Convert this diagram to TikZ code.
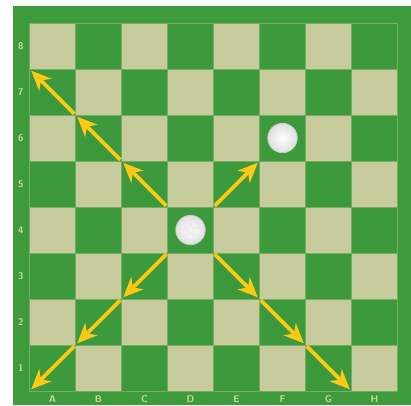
\documentclass[tikz,border=0pt]{standalone}
\usepackage{xcolor}
\usepackage{tikz}
\usetikzlibrary{arrows.meta,shapes.geometric}
\definecolor{bddark}{HTML}{3C9A3C}
\definecolor{bdlight}{HTML}{C8CC9C}
\definecolor{bdframe}{HTML}{3D9B3B}
\definecolor{mvgold}{HTML}{FFC814}

\begin{document}
\begin{tikzpicture}[
  sq/.style={draw=bdlight!40!bddark, line width=0.5pt},
  lbl/.style={text=bdlight!85!white, font=\sffamily\bfseries\fontsize{6}{7}\selectfont, inner sep=0pt},
  mv/.style={-{Stealth[length=4.3mm,width=3.7mm,inset=1.3mm]}, line width=2.3pt, color=mvgold, shorten >=1.5pt, shorten <=1pt},
  disc/.style={circle, minimum size=0.64cm, inner sep=0pt, draw=gray!40, line width=0.5pt, inner color=white, outer color=gray!25}
]
  \useasboundingbox (-0.641,-0.304) rectangle (8.293,8.5);
  \fill[bdframe] (-0.359,-0.304) rectangle (8.293,8.37);

  % squares, A1 dark
  \foreach \i in {0,...,7}
    \foreach \j in {0,...,7} {
      \pgfmathparse{mod(\i+\j,2)==0 ? "bddark" : "bdlight"}
      \edef\sqcol{\pgfmathresult}
      \filldraw[sq, fill=\sqcol] (\i,\j) rectangle ++(1,1);
    }

  % ranks and files
  \foreach \r in {1,...,8}
    \node[lbl] (rk\r) at (-0.19,\r-0.5) {\r};
  \foreach \f [count=\i from 0] in {A,B,C,D,E,F,G,H}
    \node[lbl] (fl\f) at (\i+0.5,-0.17) {\f};

  % square corners
  \foreach \i in {0,...,8}
    \foreach \j in {0,...,8}
      \coordinate (c\i-\j) at (\i,\j);

  \node[disc] (pcD) at (3.5,3.5) {};
  \node[star, star points=5, star point ratio=2.2, minimum size=0.3cm, inner sep=0pt, fill=gray!10, draw=gray!18] (stD) at (pcD) {};
  \node[disc] (pcF) at (5.5,5.5) {};

  \draw[mv] (c3-4) -- (c2-5);
  \draw[mv] (c2-5) -- (c1-6);
  \draw[mv] (c1-6) -- (c0-7);
  \draw[mv] (c4-4) -- (c5-5);
  \draw[mv] (c3-3) -- (c2-2);
  \draw[mv] (c2-2) -- (c1-1);
  \draw[mv] (c1-1) -- (c0-0);
  \draw[mv] (c4-3) -- (c5-2);
  \draw[mv] (c5-2) -- (c6-1);
  \draw[mv] (c6-1) -- (c7-0);
\end{tikzpicture}
\end{document}
